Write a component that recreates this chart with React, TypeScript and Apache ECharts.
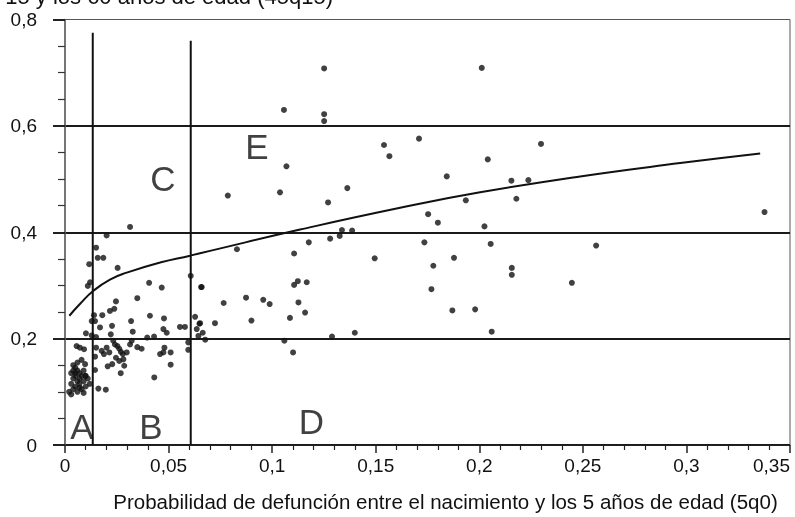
import React, { useEffect, useRef } from "react";
import * as echarts from "echarts";

// Region boundary lines (x position, top value)
const boundaryX = [0.0134, 0.0607];
const boundaryTop = [0.775, 0.76];

// Fitted curve
const curveX = [0.0021, 0.0072, 0.0137, 0.0217, 0.0298, 0.0459, 0.0604, 0.07, 0.1135, 0.1618, 0.2004, 0.2487, 0.297, 0.3356];
const curveY = [0.243, 0.265, 0.29, 0.311, 0.324, 0.343, 0.356, 0.365, 0.405, 0.446, 0.475, 0.505, 0.53, 0.548];

// Region letters
const letterNames = ["A", "B", "C", "D", "E"];
const letterX = [0.0082, 0.0415, 0.0473, 0.119, 0.0927];
const letterY = [0.034, 0.034, 0.501, 0.045, 0.561];

// Countries: cluster of low mortality (region A)
const clusterA: number[][] = [
  [0.004, 0.15], [0.005, 0.145], [0.006, 0.14], [0.007, 0.135], [0.008, 0.13], [0.005, 0.13],
  [0.004, 0.125], [0.006, 0.12], [0.003, 0.115], [0.005, 0.11], [0.007, 0.115], [0.009, 0.12],
  [0.004, 0.105], [0.006, 0.1], [0.003, 0.095], [0.008, 0.105], [0.01, 0.11], [0.005, 0.135],
  [0.009, 0.14], [0.011, 0.125], [0.007, 0.125], [0.003, 0.135], [0.006, 0.155], [0.008, 0.16],
  [0.002, 0.1], [0.01, 0.13], [0.004, 0.14], [0.007, 0.108], [0.012, 0.115], [0.009, 0.098],
  [0.0056, 0.186], [0.0072, 0.183], [0.0092, 0.18], [0.0097, 0.152], [0.0098, 0.13]
];

// Countries with 5q0 between ~0.01 and ~0.07
const lowMid: number[][] = [
  [0.0314, 0.41], [0.0201, 0.394], [0.015, 0.371], [0.0158, 0.352], [0.0185, 0.352], [0.0117, 0.34],
  [0.0254, 0.333], [0.0121, 0.306], [0.011, 0.299], [0.0406, 0.305], [0.0467, 0.296], [0.0607, 0.318],
  [0.0657, 0.297], [0.0349, 0.276], [0.0246, 0.27], [0.0217, 0.252], [0.0238, 0.256], [0.014, 0.244],
  [0.018, 0.244], [0.041, 0.243], [0.0478, 0.238], [0.0628, 0.241], [0.0649, 0.228], [0.0129, 0.233],
  [0.0145, 0.233], [0.0169, 0.221], [0.0227, 0.224], [0.0319, 0.233], [0.0327, 0.213], [0.0475, 0.218],
  [0.0491, 0.211], [0.0555, 0.222], [0.0579, 0.222], [0.0636, 0.218], [0.0665, 0.211], [0.0644, 0.205],
  [0.0101, 0.21], [0.0129, 0.206], [0.015, 0.203], [0.0221, 0.208], [0.0397, 0.202], [0.043, 0.204],
  [0.0595, 0.193], [0.0595, 0.179], [0.015, 0.183], [0.0177, 0.177], [0.0201, 0.183], [0.0188, 0.171],
  [0.0214, 0.174], [0.0233, 0.196], [0.0241, 0.189], [0.0253, 0.186], [0.0262, 0.181], [0.027, 0.175],
  [0.0279, 0.171], [0.0246, 0.164], [0.0262, 0.158], [0.0282, 0.161], [0.0286, 0.149], [0.0228, 0.152],
  [0.0206, 0.148], [0.0298, 0.174], [0.0314, 0.189], [0.0322, 0.196], [0.0349, 0.184], [0.037, 0.181],
  [0.0459, 0.171], [0.0475, 0.174], [0.048, 0.183], [0.051, 0.174], [0.051, 0.151], [0.0431, 0.127],
  [0.0269, 0.135], [0.0145, 0.166], [0.0145, 0.141], [0.0161, 0.106], [0.0197, 0.104]
];

// Countries with higher 5q0
const highMort: number[][] = [
  [0.1251, 0.708], [0.2012, 0.709], [0.1057, 0.63], [0.1251, 0.622], [0.1251, 0.609], [0.1709, 0.576],
  [0.154, 0.564], [0.1566, 0.543], [0.2041, 0.537], [0.1069, 0.524], [0.1843, 0.505], [0.0786, 0.469],
  [0.1038, 0.475], [0.1363, 0.483], [0.127, 0.456], [0.1935, 0.46], [0.1753, 0.434], [0.18, 0.418],
  [0.2025, 0.411], [0.1337, 0.404], [0.1386, 0.403], [0.1326, 0.393], [0.128, 0.388], [0.1177, 0.381],
  [0.1735, 0.381], [0.2055, 0.378], [0.083, 0.368], [0.1106, 0.36], [0.1495, 0.351], [0.1878, 0.352],
  [0.2298, 0.566], [0.2155, 0.497], [0.2237, 0.498], [0.2179, 0.463], [0.3377, 0.438], [0.2564, 0.375],
  [0.2157, 0.333], [0.2157, 0.32], [0.2447, 0.305], [0.206, 0.213], [0.1778, 0.337], [0.066, 0.297],
  [0.1106, 0.301], [0.1124, 0.308], [0.1167, 0.306], [0.0874, 0.277], [0.0766, 0.267], [0.0957, 0.273],
  [0.0988, 0.265], [0.1127, 0.268], [0.1769, 0.293], [0.187, 0.253], [0.198, 0.255], [0.0652, 0.229],
  [0.0724, 0.229], [0.09, 0.234], [0.1086, 0.239], [0.1159, 0.249], [0.0677, 0.198], [0.1059, 0.196],
  [0.1101, 0.174], [0.1289, 0.204], [0.1399, 0.211]
];

const titleText = "Probabilidad de defunción entre los 15 y los 60 años de edad (45q15)";
const xName = "Probabilidad de defunción entre el nacimiento y los 5 años de edad (5q0)";

const FONT = "'Liberation Sans', Arial, sans-serif";

export default function App() {
  const ref = useRef<HTMLDivElement>(null);
  useEffect(() => {
    if (!ref.current) return;
    const chart = echarts.init(ref.current, undefined, { renderer: "svg" });
    const dot = { type: "scatter", symbol: "circle", symbolSize: 6, itemStyle: { color: "#111" }, z: 5 };
    const boundarySeries = boundaryX.map((x, i) => ({
      type: "line",
      data: [[x, 0], [x, boundaryTop[i]]],
      symbol: "none",
      lineStyle: { color: "#111", width: 2 },
      z: 3,
    }));
    chart.setOption({
      animation: false,
      textStyle: { fontFamily: FONT },
      grid: { left: 65, right: 5, top: 19.5, bottom: 71, show: true, borderColor: "#555", borderWidth: 1 },
      graphic: [
        {
          type: "text",
          style: { text: titleText, x: 333, y: 7, align: "right", verticalAlign: "bottom", fontSize: 22, fontFamily: FONT, fill: "#111" },
        },
      ],
      xAxis: {
        type: "value",
        min: 0,
        max: 0.35,
        interval: 0.05,
        name: xName,
        nameLocation: "middle",
        nameGap: 46,
        nameTextStyle: { fontSize: 20.5, color: "#111", fontFamily: FONT, verticalAlign: "top", padding: [0, 0, 0, 36] },
        axisLine: { show: true, lineStyle: { color: "#222", width: 1 } },
        axisTick: { show: true, length: 8, lineStyle: { color: "#222", width: 1.5 } },
        minorTick: { show: true, splitNumber: 5, length: 5, lineStyle: { color: "#222", width: 1.2 } },
        splitLine: { show: false },
        axisLabel: {
          fontSize: 19,
          color: "#111",
          margin: 11,
          fontFamily: FONT,
          alignMaxLabel: "right",
          formatter: (v: number) => (v === 0 ? "0" : String(+v.toFixed(2)).replace(".", ",")),
        },
      },
      yAxis: {
        type: "value",
        min: 0,
        max: 0.8,
        interval: 0.2,
        axisLine: { show: true, lineStyle: { color: "#666", width: 1.5 } },
        axisTick: { show: true, length: 12, lineStyle: { color: "#222", width: 2 } },
        minorTick: { show: true, splitNumber: 4, length: 7, lineStyle: { color: "#333", width: 1.2 } },
        splitLine: { show: true, showMaxLine: false, lineStyle: { color: "#1a1a1a", width: 2 } },
        axisLabel: {
          fontSize: 19,
          color: "#111",
          margin: 28,
          fontFamily: FONT,
          formatter: (v: number) => (v === 0 ? "0" : v.toFixed(1).replace(".", ",")),
        },
      },
      series: [
        ...boundarySeries,
        {
          type: "line",
          data: curveX.map((x, i) => [x, curveY[i]]),
          smooth: true,
          symbol: "none",
          lineStyle: { color: "#111", width: 2 },
          z: 4,
        },
        { ...dot, data: clusterA },
        { ...dot, data: lowMid },
        { ...dot, data: highMort },
        {
          type: "scatter",
          symbolSize: 0,
          data: letterNames.map((n, i) => ({ value: [letterX[i], letterY[i]], name: n })),
          label: {
            show: true,
            position: "inside",
            formatter: (p: any) => p.name,
            fontSize: 35,
            color: "#111",
            fontFamily: FONT,
          },
          z: 6,
        },
      ],
    });
    return () => chart.dispose();
  }, []);
  return <div ref={ref} style={{ position: "fixed", left: 0, top: 0, width: 795, height: 517 }} />;
}
